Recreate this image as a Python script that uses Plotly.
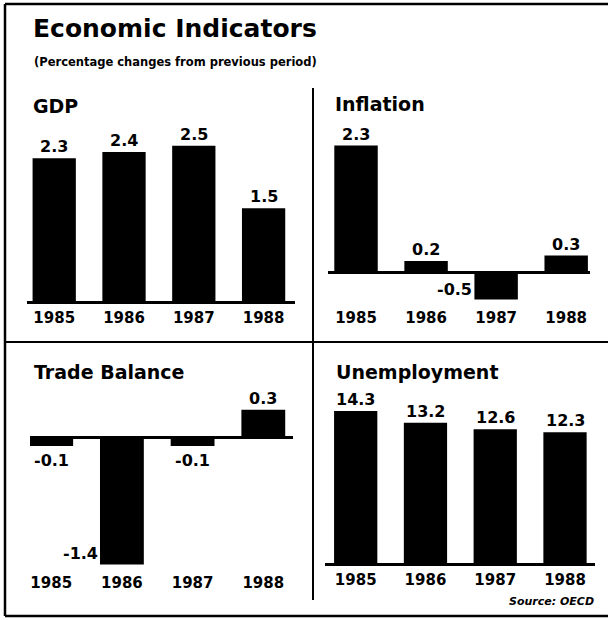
import plotly.graph_objects as go

years = ["1985", "1986", "1987", "1988"]
gdp = [2.3, 2.4, 2.5, 1.5]
inflation = [2.3, 0.2, -0.5, 0.3]
trade = [-0.1, -1.4, -0.1, 0.3]
unemployment = [14.3, 13.2, 12.6, 12.3]
gdp_labels = ["2.3", "2.4", "2.5", "1.5"]
inflation_labels = ["2.3", "0.2", "-0.5", "0.3"]
trade_labels = ["-0.1", "-1.4", "-0.1", "0.3"]
unemployment_labels = ["14.3", "13.2", "12.6", "12.3"]

W, H = 608, 620
FONT = "DejaVu Sans"


def fx(px):
    return px / W


def fy(py):
    return 1 - py / H


panels = [
    ("GDP", gdp, gdp_labels, "", (27, 295), [-0.39, 3.45], (305, 130), [-0.048, 2.752], []),
    ("Inflation", inflation, inflation_labels, "2", (328, 590), [-0.4, 3.34], (305, 130), [-0.6, 2.582], [2]),
    ("Trade Balance", trade, trade_labels, "3", (30, 293), [-0.3, 3.42], (570, 395), [-1.4615, 0.4615], [1]),
    ("Unemployment", unemployment, unemployment_labels, "4", (325, 595), [-0.44, 3.43], (567, 395), [-0.28, 15.79], []),
]

fig = go.Figure()
annotations = []
layout_axes = {}

for name, vals, labs, ax, xd, xr, yd, yr, side in panels:
    xa = "x" + ax
    ya = "y" + ax
    fig.add_trace(go.Bar(
        x=years, y=vals, xaxis=xa, yaxis=ya,
        marker=dict(color="black", line=dict(width=0)),
        width=0.62, showlegend=False, hoverinfo="skip",
    ))
    layout_axes["xaxis" + ax] = dict(
        domain=[fx(xd[0]), fx(xd[1])], range=xr, type="category",
        anchor=ya, showgrid=False, zeroline=False, showline=False,
        ticks="", ticklabelstandoff=2,
        tickfont=dict(family=FONT, size=15, color="black", weight="bold"),
        fixedrange=True,
    )
    layout_axes["yaxis" + ax] = dict(
        domain=[fy(yd[0]), fy(yd[1])], range=yr, anchor=xa,
        showgrid=False, showticklabels=False, ticks="",
        zeroline=True, zerolinecolor="black", zerolinewidth=2.5,
        showline=False, fixedrange=True,
    )
    for i, (v, t) in enumerate(zip(vals, labs)):
        if i in side:
            annotations.append(dict(
                x=i - 0.31, y=v, xref=xa, yref=ya, text=t, showarrow=False,
                xanchor="right", yanchor="bottom", yshift=-1,
                font=dict(family=FONT, size=16, color="black", weight="bold"),
            ))
        else:
            annotations.append(dict(
                x=i, y=v, xref=xa, yref=ya, text=t, showarrow=False,
                xanchor="center", yanchor="bottom" if v >= 0 else "top",
                yshift=0 if v >= 0 else -3,
                font=dict(family=FONT, size=16, color="black", weight="bold"),
            ))

for text, x, y in [("GDP", 31, 106), ("Inflation", 333, 104),
                   ("Trade Balance", 32, 372), ("Unemployment", 334, 372)]:
    annotations.append(dict(
        x=fx(x), y=fy(y), xref="paper", yref="paper", text=text, showarrow=False,
        xanchor="left", yanchor="middle",
        font=dict(family=FONT, size=19, color="black", weight="bold"),
    ))

annotations.append(dict(
    x=fx(31), y=fy(28), xref="paper", yref="paper", text="Economic Indicators",
    showarrow=False, xanchor="left", yanchor="middle",
    font=dict(family=FONT, size=25, color="black", weight="bold"),
))
annotations.append(dict(
    x=fx(32), y=fy(62), xref="paper", yref="paper",
    text="(Percentage changes from previous period)",
    showarrow=False, xanchor="left", yanchor="middle",
    font=dict(family=FONT, size=11.5, color="black", weight="bold"),
))
annotations.append(dict(
    x=fx(596), y=fy(601), xref="paper", yref="paper", text="<i>Source: OECD</i>",
    showarrow=False, xanchor="right", yanchor="middle",
    font=dict(family=FONT, size=11, color="black", weight="bold"),
))

frame = dict(color="black", width=2.5)
shapes = [
    dict(type="line", xref="paper", yref="paper", x0=fx(5), x1=1.0, y0=fy(4), y1=fy(4), line=frame),
    dict(type="line", xref="paper", yref="paper", x0=fx(5), x1=fx(5), y0=fy(4), y1=fy(616), line=frame),
    dict(type="line", xref="paper", yref="paper", x0=fx(5), x1=1.0, y0=fy(616), y1=fy(616), line=frame),
    dict(type="line", xref="paper", yref="paper", x0=fx(4), x1=1.0, y0=fy(342), y1=fy(342),
         line=dict(color="black", width=2)),
    dict(type="line", xref="paper", yref="paper", x0=fx(313), x1=fx(313), y0=fy(88), y1=fy(600),
         line=dict(color="black", width=2)),
]

fig.update_layout(
    width=W, height=H, margin=dict(l=0, r=0, t=0, b=0),
    paper_bgcolor="white", plot_bgcolor="rgba(0,0,0,0)",
    annotations=annotations, shapes=shapes, bargap=0.38,
    **layout_axes,
)

fig.write_html("out.html")
